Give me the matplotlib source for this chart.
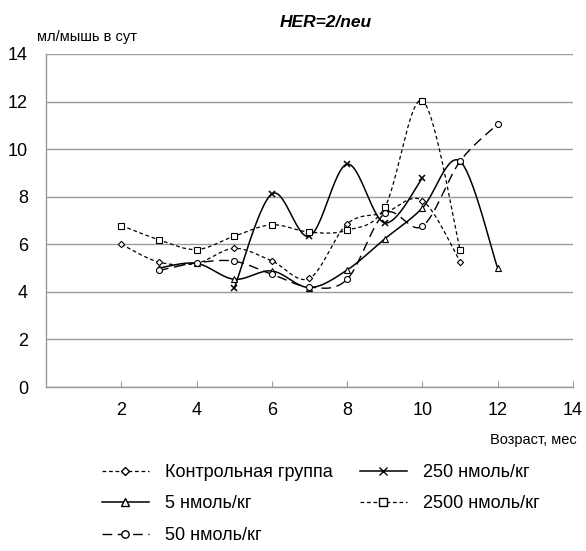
import matplotlib
matplotlib.use('Agg')
import matplotlib.pyplot as plt
from matplotlib.lines import Line2D
import numpy as np

plt.rcParams['font.family'] = ['Liberation Sans', 'DejaVu Sans']

# age, months
months_ctrl = [2, 3, 4, 5, 6, 7, 8, 9, 10, 11]
ctrl = [6.0, 5.25, 5.2, 5.83, 5.3, 4.57, 6.86, 7.32, 7.84, 5.27]

months_5 = [3, 4, 5, 6, 7, 8, 9, 10, 11, 12]
dose_5 = [5.0, 5.2, 4.53, 4.88, 4.18, 4.92, 6.23, 7.53, 9.49, 4.99]

months_50 = [3, 4, 5, 6, 7, 8, 9, 10, 11, 12]
dose_50 = [4.9, 5.22, 5.29, 4.74, 4.2, 4.53, 7.3, 6.76, 9.49, 11.05]

months_250 = [5, 6, 7, 8, 9, 10]
dose_250 = [4.15, 8.12, 6.34, 9.37, 6.9, 8.79]

months_2500 = [2, 3, 4, 5, 6, 7, 8, 9, 10, 11]
dose_2500 = [6.79, 6.19, 5.78, 6.34, 6.82, 6.51, 6.59, 7.56, 12.04, 5.78]

labels = ['Контрольная группа', '5 нмоль/кг', '50 нмоль/кг',
          '250 нмоль/кг', '2500 нмоль/кг']


def smooth(x, y, n=30):
    # catmull-rom style bezier through the points (like spreadsheet "smoothed line")
    p = np.column_stack([x, y]).astype(float)
    out = [p[0]]
    t = np.linspace(0, 1, n)[1:, None]
    for i in range(len(p) - 1):
        p0 = p[i - 1] if i > 0 else p[i]
        p1, p2 = p[i], p[i + 1]
        p3 = p[i + 2] if i + 2 < len(p) else p2
        c1 = p1 + (p2 - p0) / 6
        c2 = p2 - (p3 - p1) / 6
        seg = ((1 - t) ** 3) * p1 + 3 * ((1 - t) ** 2) * t * c1 + 3 * (1 - t) * t ** 2 * c2 + t ** 3 * p2
        out.extend(seg)
    out = np.array(out)
    return out[:, 0], out[:, 1]


fig = plt.figure(figsize=(5.86, 5.51), dpi=100)
ax = fig.add_axes([0.0785, 0.2976, 0.8993, 0.6044])

series = [
    (months_ctrl, ctrl, dict(ls=(0, (3, 2.2)), lw=0.9), dict(marker='D', ms=3.2)),
    (months_5, dose_5, dict(ls='-', lw=1.1), dict(marker='^', ms=4.8)),
    (months_50, dose_50, dict(ls=(0, (7, 4)), lw=1.0), dict(marker='o', ms=4.3)),
    (months_250, dose_250, dict(ls='-', lw=1.1), dict(marker='x', ms=4.2, mew=1.1)),
    (months_2500, dose_2500, dict(ls=(0, (3, 2.2)), lw=0.9), dict(marker='s', ms=4.6)),
]

handles = []
for (mx, my, lst, mk), lab in zip(series, labels):
    sx, sy = smooth(mx, my)
    ax.plot(sx, sy, color='black', zorder=3, **lst)
    ax.plot(mx, my, ls='none', color='black', mfc='white', mec='black',
            mew=mk.pop('mew', 0.8), zorder=4, **mk)
    handles.append(Line2D([], [], color='black', mfc='white', mec='black',
                          marker=mk['marker'], ms=mk['ms'] + 1, **lst))

ax.set_xlim(0, 14)
ax.set_ylim(0, 14)
ax.set_xticks(range(2, 15, 2))
ax.set_yticks(range(0, 15, 2))
ax.yaxis.grid(True, color='#999999', lw=1.0)
ax.set_axisbelow(True)
for s in ['top', 'right']:
    ax.spines[s].set_visible(False)
for s in ['left', 'bottom']:
    ax.spines[s].set_color('#999999')
    ax.spines[s].set_linewidth(1.0)
ax.tick_params(axis='x', direction='in', length=4, color='#999999', labelsize=13, pad=11)
ax.tick_params(axis='y', length=0, labelsize=13, pad=13)

fig.text(0.556, 0.96, 'HER=2/neu', ha='center', va='center',
         fontsize=12.5, fontweight='bold', fontstyle='italic')
fig.text(0.063, 0.932, 'мл/мышь в сут', ha='left', va='center', fontsize=10.5)
fig.text(0.985, 0.201, 'Возраст, мес', ha='right', va='center', fontsize=10.5)

fig.legend(handles, labels, ncol=2, loc='upper left', bbox_to_anchor=(0.174, 0.158),
           frameon=False, fontsize=13, handlelength=2.6, handletextpad=0.9,
           labelspacing=0.8, columnspacing=1.5, borderpad=0, borderaxespad=0)

fig.savefig('out.png', dpi=100)
